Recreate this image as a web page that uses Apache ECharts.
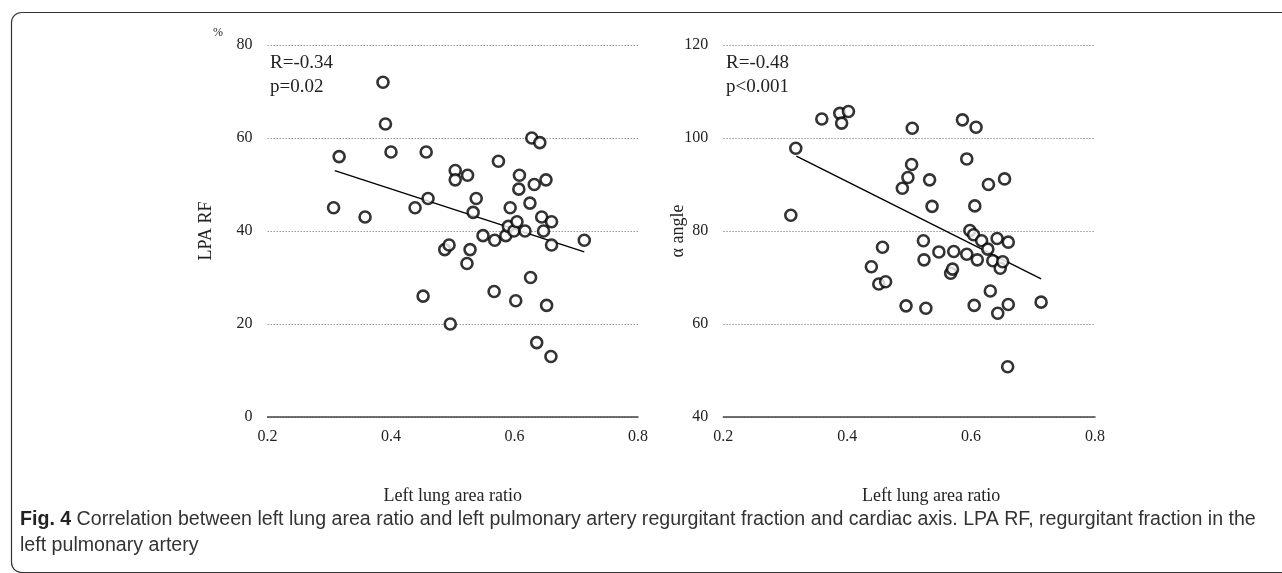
<!DOCTYPE html>
<html>
<head>
<meta charset="utf-8">
<script src="https://cdn.jsdelivr.net/npm/echarts@6/dist/echarts.min.js"></script>
<style>
html,body{margin:0;padding:0;background:#fff;}
#chart{width:1282px;height:573px;}
</style>
</head>
<body>
<div id="chart"></div>
<script>
// ---- data ----
var xTicks = [0.2, 0.4, 0.6, 0.8];
var leftYTicks = [0, 20, 40, 60, 80];
var rightYTicks = [40, 60, 80, 100, 120];

var lungRatioA = [0.307,0.316,0.358,0.387,0.391,0.400,0.439,0.452,0.457,0.460,0.487,0.494,0.496,0.504,0.504,0.524,0.523,0.528,0.533,0.538,0.549,0.568,0.567,0.574,0.586,0.590,0.593,0.599,0.602,0.604,0.607,0.608,0.617,0.625,0.626,0.628,0.632,0.636,0.641,0.644,0.647,0.651,0.652,0.659,0.660,0.660,0.713];
var lpaRF      = [45,56,43,72,63,57,45,26,57,47,36,37,20,53,51,52,33,36,44,47,39,38,27,55,39,41,45,40,25,42,49,52,40,46,30,60,50,16,59,43,40,51,24,13,42,37,38];

var lungRatioB = [0.309,0.317,0.359,0.388,0.391,0.402,0.439,0.451,0.457,0.462,0.489,0.495,0.498,0.504,0.505,0.523,0.524,0.527,0.533,0.537,0.548,0.567,0.570,0.572,0.586,0.593,0.593,0.598,0.604,0.605,0.606,0.608,0.610,0.617,0.627,0.628,0.631,0.635,0.642,0.643,0.647,0.651,0.654,0.659,0.660,0.660,0.713];
var alphaAngle = [83.4,97.8,104.1,105.3,103.2,105.7,72.3,68.6,76.5,69.1,89.2,63.9,91.5,94.3,102.1,77.9,73.8,63.4,91.0,85.3,75.5,70.9,71.8,75.6,103.9,95.5,75.0,80.1,79.2,64.0,85.4,102.3,73.8,77.9,76.1,90.0,67.1,73.6,78.4,62.3,72.0,73.4,91.2,50.8,77.6,64.2,64.7];

var fitLineA = [[0.309, 53.0], [0.713, 35.5]];
var fitLineB = [[0.318, 96.1], [0.713, 69.7]];

var statsA = ['R=-0.34', 'p=0.02'];
var statsB = ['R=-0.48', 'p<0.001'];
var xTitle = 'Left lung area ratio';
var yTitleA = 'LPA RF';
var yTitleB = 'α angle';
var unitA = '%';
var captionBold = 'Fig. 4';
var captionLine1 = ' Correlation between left lung area ratio and left pulmonary artery regurgitant fraction and cardiac axis. LPA RF, regurgitant fraction in the';
var captionLine2 = 'left pulmonary artery';

function zip(a, b) { return a.map(function (v, i) { return [v, b[i]]; }); }

var serif = '"Liberation Serif", "DejaVu Serif", serif';
var sans = '"Liberation Sans", "DejaVu Sans", sans-serif';

function xAxisCfg(gi, shift) {
  return {
    gridIndex: gi, type: 'value', min: xTicks[0], max: xTicks[xTicks.length - 1], interval: 0.2,
    axisLine: { show: true, lineStyle: { color: '#444', width: 1.5 } },
    axisTick: { show: false },
    splitLine: { show: false },
    axisLabel: { color: '#222', fontFamily: serif, fontSize: 16, margin: 12, formatter: function (v) { return v.toFixed(1); } },
    name: xTitle, nameLocation: 'middle', nameGap: 70,
    nameTextStyle: { color: '#222', fontFamily: serif, fontSize: 18, padding: [0, 0, 0, shift] }
  };
}
function yAxisCfg(gi, ticks, name, gap) {
  return {
    gridIndex: gi, type: 'value', min: ticks[0], max: ticks[ticks.length - 1], interval: 20,
    axisLine: { show: false }, axisTick: { show: false },
    splitLine: { show: true, lineStyle: { color: '#999', type: [1.5, 1.5], width: 1 } },
    axisLabel: { color: '#222', fontFamily: serif, fontSize: 16, margin: 15 },
    name: name, nameLocation: 'middle', nameRotate: 90, nameGap: gap, nameMoveOverlap: false,
    nameTextStyle: { color: '#222', fontFamily: serif, fontSize: 18 }
  };
}
function scatter(gi, data) {
  return {
    type: 'scatter', xAxisIndex: gi, yAxisIndex: gi, data: data,
    symbol: 'circle', symbolSize: 11,
    itemStyle: { color: '#fff', borderColor: '#000', borderWidth: 2.6 },
    z: 3
  };
}
function fit(gi, data) {
  return {
    type: 'line', xAxisIndex: gi, yAxisIndex: gi, data: data,
    symbol: 'none', lineStyle: { color: '#000', width: 1.4 }, z: 2
  };
}

var chart = echarts.init(document.getElementById('chart'), null, { renderer: 'canvas' });
chart.setOption({
  backgroundColor: '#fff',
  animation: false,
  grid: [
    { left: 267.5, right: 1282 - 638, top: 45, bottom: 573 - 417 },
    { left: 723.3, right: 1282 - 1095, top: 45, bottom: 573 - 417 }
  ],
  xAxis: [xAxisCfg(0, 0), xAxisCfg(1, 44)],
  yAxis: [yAxisCfg(0, leftYTicks, yTitleA, 52), yAxisCfg(1, rightYTicks, yTitleB, 36)],
  series: [
    fit(0, fitLineA), scatter(0, zip(lungRatioA, lpaRF)),
    fit(1, fitLineB), scatter(1, zip(lungRatioB, alphaAngle))
  ],
  graphic: [
    { type: 'rect', left: 9, top: 10, shape: { width: 1300, height: 560, r: 10 }, style: { fill: 'none', stroke: '#333', lineWidth: 1.2 }, silent: true, z: -1 },
    { type: 'text', left: 213, top: 27, style: { text: unitA, font: '12px ' + serif, fill: '#222' } },
    { type: 'text', left: 270, top: 51, style: { text: statsA.join('\n'), font: '19px ' + serif, fill: '#222', lineHeight: 24 } },
    { type: 'text', left: 726, top: 51, style: { text: statsB.join('\n'), font: '19px ' + serif, fill: '#222', lineHeight: 24 } },
    { type: 'text', left: 20, top: 510, style: {
        text: '{b|' + captionBold + '}{n|' + captionLine1 + '}\n{n|' + captionLine2 + '}',
        rich: {
          b: { fontFamily: sans, fontWeight: 'bold', fontSize: 19.6, fill: '#222', lineHeight: 26 },
          n: { fontFamily: sans, fontSize: 19.6, fill: '#333', lineHeight: 26 }
        }
      } }
  ]
});
</script>
</body>
</html>
